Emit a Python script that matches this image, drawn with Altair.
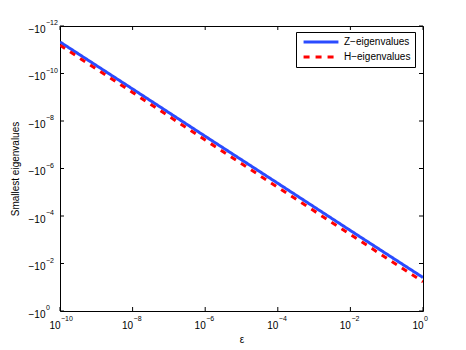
import altair as alt
import pandas as pd

# Data
eps = [1e-10, 1e-8, 1e-6, 1e-4, 1e-2, 1]
z_eig = [-4.7e-12, -4.5e-10, -4.4e-8, -4.2e-6, -4.1e-4, -3.9e-2]
h_eig = [-6.5e-12, -6.3e-10, -6.3e-8, -6.2e-6, -6.0e-4, -5.9e-2]
series = ["Z\u2212eigenvalues", "H\u2212eigenvalues"]
x_ticks = [1e-10, 1e-8, 1e-6, 1e-4, 1e-2, 1]
x_exp = ["\u221210", "\u22128", "\u22126", "\u22124", "\u22122", "0"]
y_ticks = [1e-12, 1e-10, 1e-8, 1e-6, 1e-4, 1e-2, 1]
y_exp = ["\u221212", "\u221210", "\u22128", "\u22126", "\u22124", "\u22122", "0"]

rows = []
for s, vals in zip(series, [z_eig, h_eig]):
    for e, v in zip(eps, vals):
        rows.append({"eps": e, "value": v, "series": s})
df = pd.DataFrame(rows)

W, H = 363, 285
FONT = "Liberation Sans"

xscale = alt.Scale(type="log", domain=[1e-10, 1])
yscale = alt.Scale(type="log", domain=[1e-12, 1], reverse=True)
x_axis = alt.Axis(values=x_ticks, labelExpr="'10'", title="\u03b5",
                  ticks=False, tickSize=0, domain=False, grid=False,
                  labelPadding=17, labelBaseline="alphabetic", labelAlign="right",
                  labelFlush=False, titleBaseline="alphabetic", titleY=31)
y_axis = alt.Axis(values=y_ticks, labelExpr="'\u221210'",
                  title="Smallest eigenvalues", ticks=False, tickSize=0, domain=False,
                  grid=False, labelPadding=15, labelBaseline="alphabetic",
                  labelOffset=6, labelFlush=False, titleBaseline="alphabetic",
                  titleX=-42)

legend = alt.Legend(
    title=None, orient="none", legendX=236, legendY=6,
    strokeColor="black", fillColor="white", padding=4, cornerRadius=0,
    symbolType="M-4,0L4,0", symbolSize=76, symbolStrokeWidth=3,
    symbolOffset=15, labelOffset=17,
    labelFont=FONT, labelFontSize=10, labelColor="black", rowPadding=3,
)

lines = alt.Chart(df).transform_calculate(mag="-datum.value").mark_line(
    strokeWidth=3, clip=True
).encode(
    x=alt.X("eps:Q", scale=xscale, axis=x_axis),
    y=alt.Y("mag:Q", scale=yscale, axis=y_axis),
    color=alt.Color("series:N", legend=legend,
                    scale=alt.Scale(domain=series, range=["#2a4bff", "#ff0000"])),
    strokeDash=alt.StrokeDash("series:N", legend=legend,
                              scale=alt.Scale(domain=series, range=[[1, 0], [6, 6]])),
    order=alt.Order("eps:Q"),
)

xt = pd.DataFrame({"t": x_ticks, "exp": x_exp})
yt = pd.DataFrame({"t": y_ticks, "exp": y_exp})
tick_len = 4
bottom = alt.Chart(xt).mark_rule(color="black", strokeWidth=1).encode(
    x=alt.X("t:Q", scale=xscale, axis=x_axis), y=alt.value(H), y2=alt.value(H - tick_len))
top = alt.Chart(xt).mark_rule(color="black", strokeWidth=1).encode(
    x=alt.X("t:Q", scale=xscale, axis=x_axis), y=alt.value(0), y2=alt.value(tick_len))
left = alt.Chart(yt).mark_rule(color="black", strokeWidth=1).encode(
    y=alt.Y("t:Q", scale=yscale, axis=y_axis), x=alt.value(0), x2=alt.value(tick_len))
right = alt.Chart(yt).mark_rule(color="black", strokeWidth=1).encode(
    y=alt.Y("t:Q", scale=yscale, axis=y_axis), x=alt.value(W), x2=alt.value(W - tick_len))

x_sup = alt.Chart(xt).mark_text(
    font=FONT, fontSize=7, align="left", baseline="alphabetic", color="black", dx=1
).encode(x=alt.X("t:Q", scale=xscale, axis=x_axis), y=alt.value(H + 10), text="exp:N")
y_sup = alt.Chart(yt).mark_text(
    font=FONT, fontSize=7, align="left", baseline="alphabetic", color="black", dy=-1
).encode(y=alt.Y("t:Q", scale=yscale, axis=y_axis), x=alt.value(-14), text="exp:N")

chart = alt.layer(lines, bottom, top, left, right, x_sup, y_sup).properties(
    width=W, height=H,
    autosize=alt.AutoSizeParams(type="none"),
    padding={"left": 52, "top": 18, "right": 35, "bottom": 38},
    background="white",
).configure_view(
    stroke="black", strokeWidth=1
).configure_axis(
    labelFont=FONT, labelFontSize=10, labelColor="black",
    titleFont=FONT, titleFontSize=10, titleColor="black", titleFontWeight="normal",
)

chart.save("out.html", embed_options={"renderer": "svg", "actions": False})
